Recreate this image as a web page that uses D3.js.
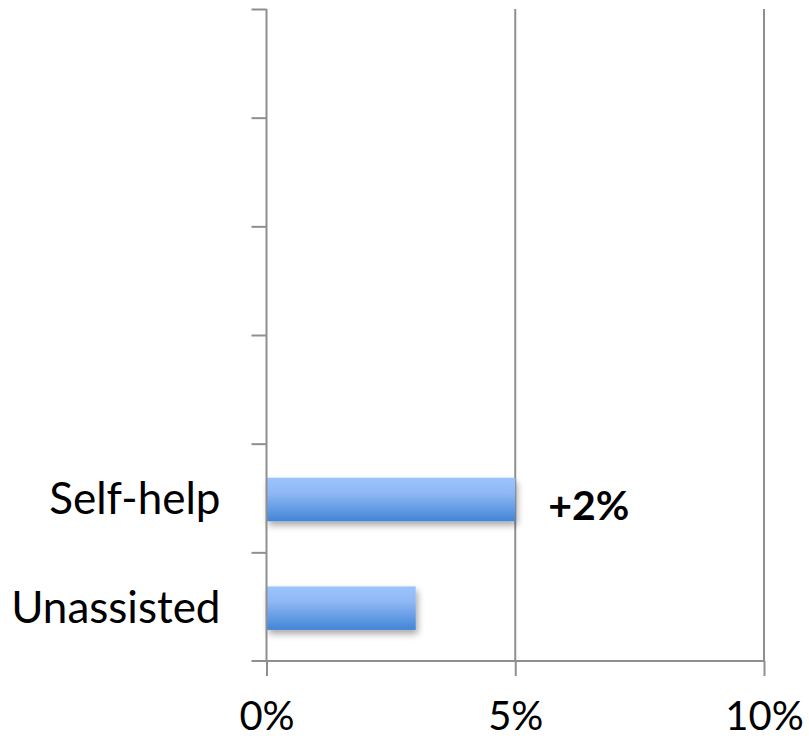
<!DOCTYPE html>
<html>
<head>
<meta charset="utf-8">
<script src="https://cdn.jsdelivr.net/npm/d3@7"></script>
<style>
  html, body { margin: 0; padding: 0; background: #fff; }
  svg { display: block; font-family: Lato, "Open Sans", sans-serif; }
</style>
</head>
<body>
<svg id="chart" width="809" height="741"></svg>
<script>
// Categories listed bottom to top; the upper slots are unused rows of the chart
const categories = ["Unassisted", "Self-help", "", "", "", ""];
const values = [3, 5, null, null, null, null];
const xTicks = [0, 5, 10];
const xTickLabels = ["0%", "5%", "10%"];

const svg = d3.select("#chart");
const axisColor = "#8f8f8f";

const plot = { left: 266.5, right: 764, top: 9, bottom: 661 };

const x = d3.scaleLinear().domain([0, 10]).range([plot.left, plot.right]);
const idx = d3.range(categories.length);
const yBand = d3.scaleBand().domain(idx).range([plot.bottom, plot.top])
  .paddingInner(0.6).paddingOuter(0.3);
const yEdge = d3.scaleLinear().domain([0, categories.length]).range([plot.bottom, plot.top]);

// Bar fill gradient and soft shadow
const defs = svg.append("defs");
const grad = defs.append("linearGradient").attr("id", "barGrad")
  .attr("x1", 0).attr("y1", 0).attr("x2", 0).attr("y2", 1);
grad.append("stop").attr("offset", "0%").attr("stop-color", "#9cc3fc");
grad.append("stop").attr("offset", "35%").attr("stop-color", "#8fb8f5");
grad.append("stop").attr("offset", "100%").attr("stop-color", "#4285d7");

const shadow = defs.append("filter").attr("id", "shadow")
  .attr("x", "-10%").attr("y", "-30%").attr("width", "130%").attr("height", "180%");
shadow.append("feGaussianBlur").attr("in", "SourceAlpha").attr("stdDeviation", 3.5);
shadow.append("feOffset").attr("dx", 2).attr("dy", 4).attr("result", "off");
shadow.append("feComponentTransfer").append("feFuncA").attr("type", "linear").attr("slope", 0.35);
const merge = shadow.append("feMerge");
merge.append("feMergeNode");
merge.append("feMergeNode").attr("in", "SourceGraphic");

// Vertical gridlines
svg.append("g").selectAll("line")
  .data(xTicks.filter(d => d > 0))
  .join("line")
  .attr("x1", d => x(d)).attr("x2", d => x(d))
  .attr("y1", plot.top).attr("y2", plot.bottom)
  .attr("stroke", axisColor).attr("stroke-width", 2);

// Bars
const barData = idx.filter(i => values[i] != null);
svg.append("g").selectAll("rect")
  .data(barData)
  .join("rect")
  .attr("x", x(0))
  .attr("y", i => yBand(i) + 1.5)
  .attr("width", i => x(values[i]) - x(0))
  .attr("height", yBand.bandwidth())
  .attr("fill", "url(#barGrad)")
  .attr("filter", "url(#shadow)");

// X axis
const xAxis = svg.append("g")
  .attr("transform", `translate(0,${plot.bottom})`)
  .call(d3.axisBottom(x).tickValues(xTicks).tickSize(15).tickPadding(26)
    .tickFormat((d, i) => xTickLabels[i]));
xAxis.select(".domain").remove();
xAxis.selectAll(".tick line").attr("stroke", axisColor).attr("stroke-width", 2);
xAxis.append("line")
  .attr("x1", plot.left - 15).attr("x2", plot.right)
  .attr("y1", 0).attr("y2", 0)
  .attr("stroke", axisColor).attr("stroke-width", 2);
xAxis.selectAll("text").attr("fill", "#000").attr("font-size", 40).attr("font-family", "Lato, sans-serif");

// Y axis: tick marks on category boundaries
const yTicks = svg.append("g")
  .attr("transform", `translate(${plot.left},0)`)
  .call(d3.axisLeft(yEdge).tickValues(d3.range(1, categories.length + 1)).tickSize(15).tickFormat(""));
yTicks.select(".domain").remove();
yTicks.selectAll(".tick line").attr("stroke", axisColor).attr("stroke-width", 2);
yTicks.append("line")
  .attr("x1", 0).attr("x2", 0)
  .attr("y1", plot.top).attr("y2", plot.bottom)
  .attr("stroke", axisColor).attr("stroke-width", 2);

// Y axis: category labels at band centres
const yLabels = svg.append("g")
  .attr("transform", `translate(${plot.left},0)`)
  .call(d3.axisLeft(yBand).tickSize(0).tickPadding(46).tickFormat(i => categories[i]));
yLabels.select(".domain").remove();
yLabels.selectAll("text").attr("fill", "#000").attr("font-size", 44)
  .attr("font-family", "Lato, sans-serif").attr("dy", "0.36em");

// Difference annotation
const diff = values[1] - values[0];
svg.append("text")
  .attr("x", x(values[1]) + 33)
  .attr("y", yBand(1) + yBand.bandwidth() / 2 + 1.5)
  .attr("dy", "0.5em")
  .attr("font-size", 41)
  .attr("font-weight", "bold")
  .attr("font-family", "Lato, sans-serif")
  .attr("fill", "#000")
  .text(`+${diff}%`);
</script>
</body>
</html>
